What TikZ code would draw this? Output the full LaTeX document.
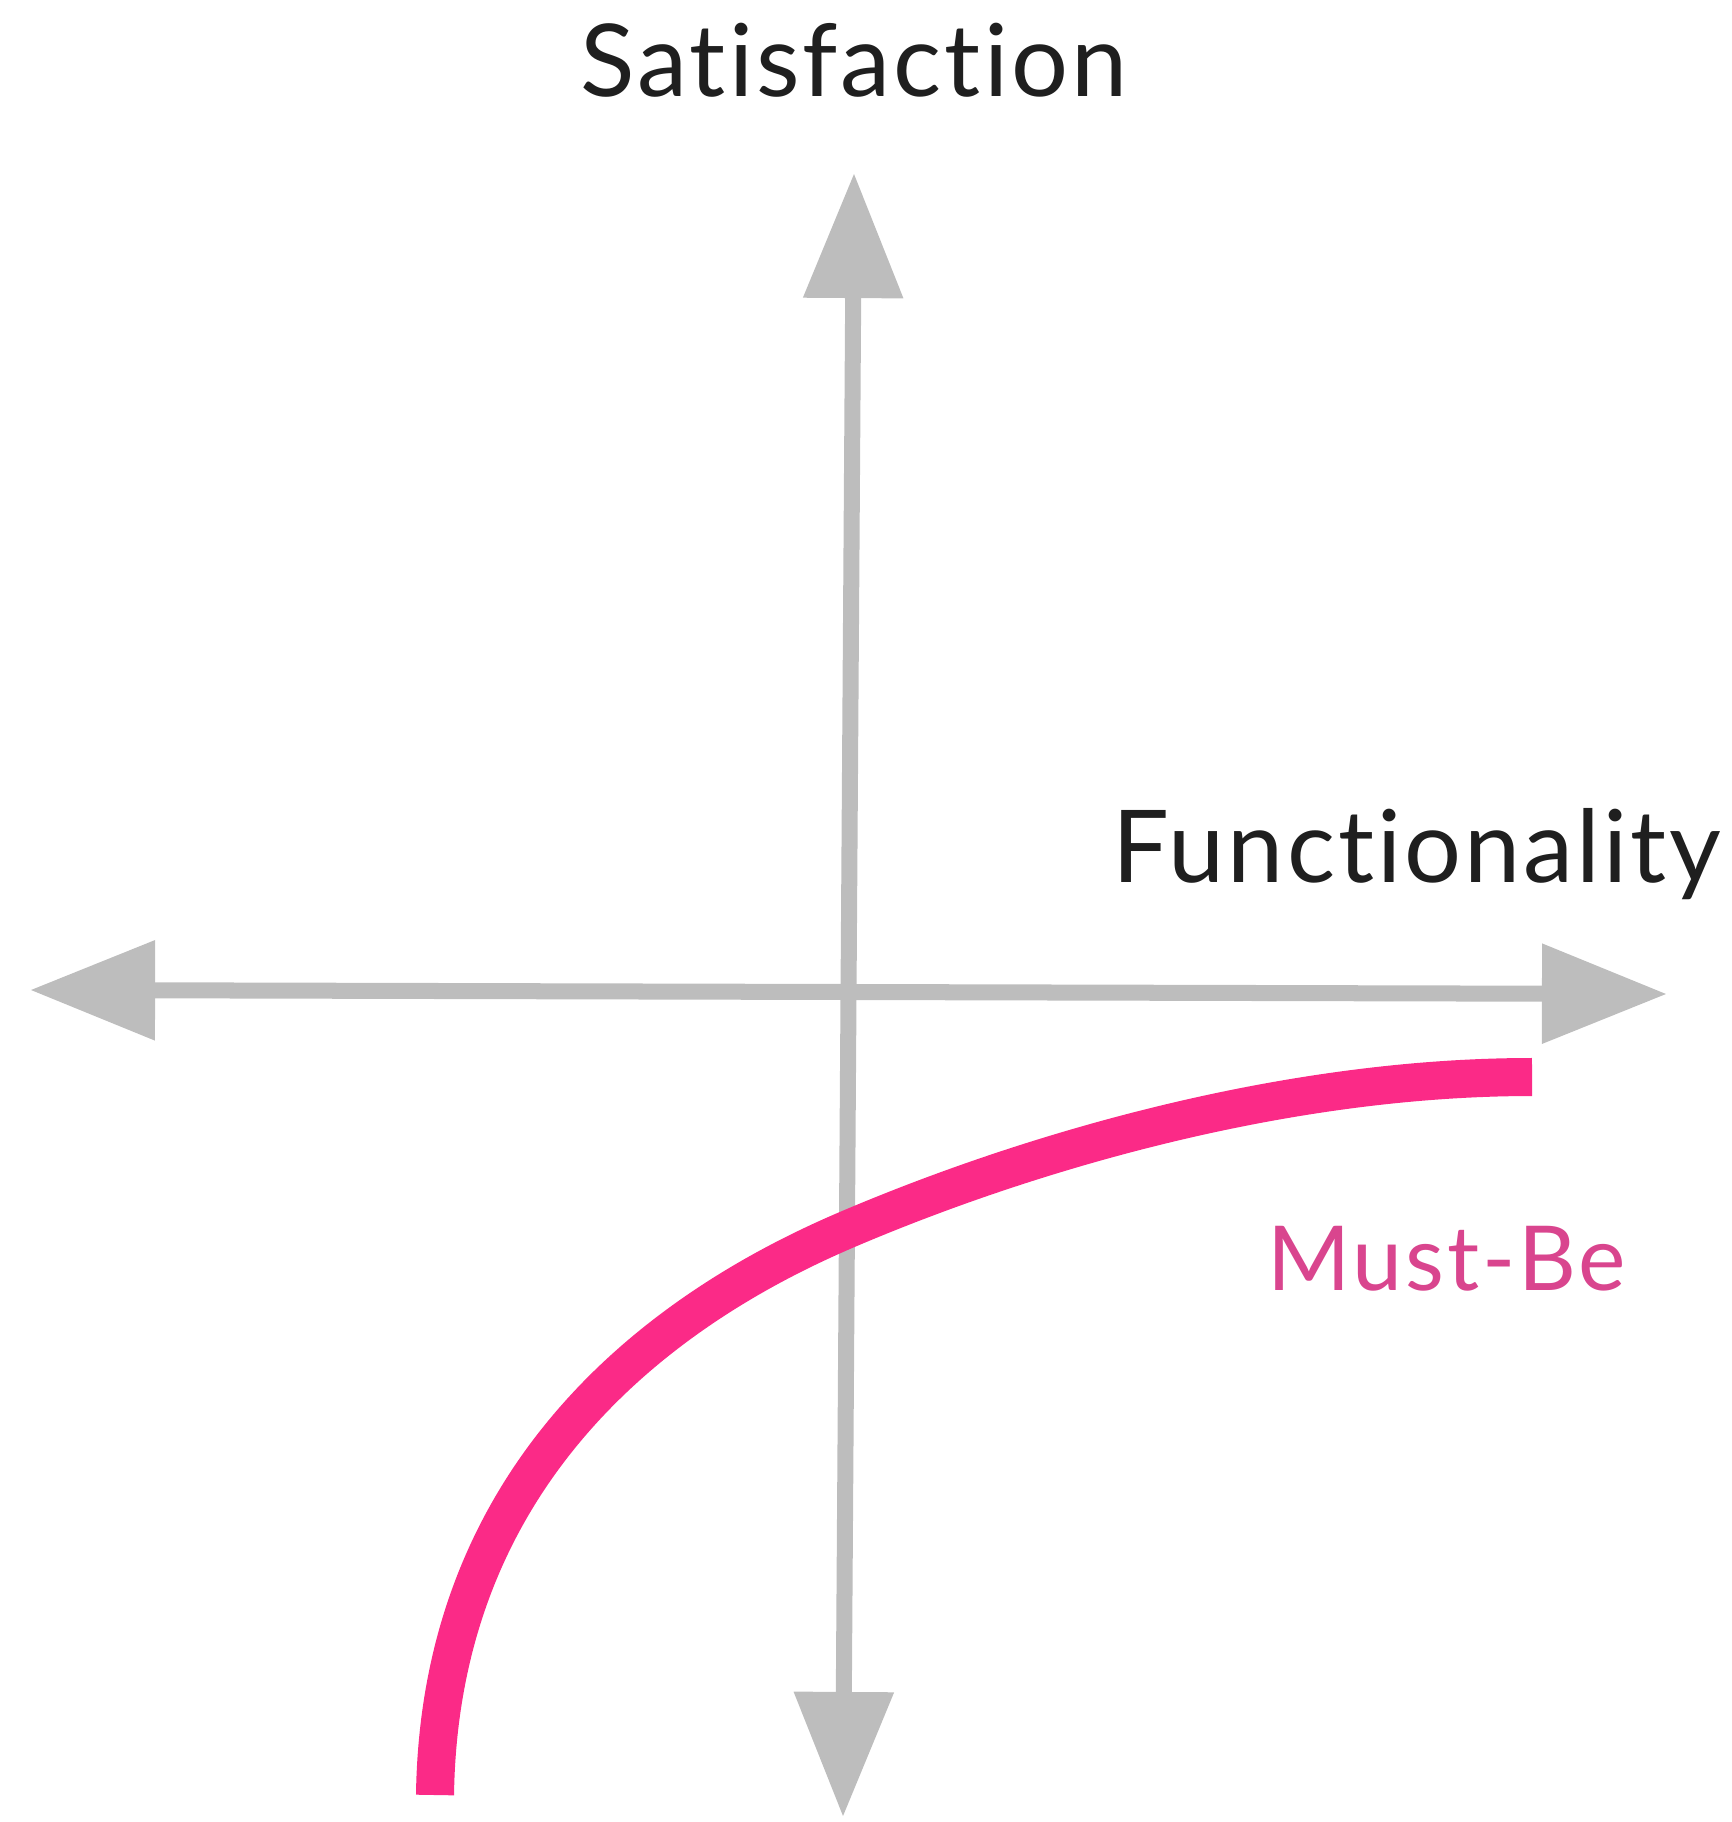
\documentclass[tikz,border=0pt]{standalone}
\usepackage{fontspec}
\setmainfont{Lato}[Ligatures=NoCommon, LetterSpace=3]
\usetikzlibrary{arrows.meta}
\definecolor{axisgray}{HTML}{BDBDBD}
\definecolor{mustpink}{HTML}{FB2A87}
\definecolor{mustlabel}{HTML}{D9458E}
\begin{document}
\begin{tikzpicture}[x=0.01cm,y=-0.01cm,
  axis/.style={draw=axisgray, line width=0.16cm,
    {Triangle[length=1.25cm,width=0.96cm,fill=axisgray]}-{Triangle[length=1.25cm,width=0.96cm,fill=axisgray]}},
  curve/.style={draw=mustpink, line width=0.38cm, line cap=butt},
  axislabel/.style={anchor=base west, inner sep=0pt, text=black!88, font=\fontsize{28.6}{34}\selectfont},
  curvelabel/.style={anchor=base west, inner sep=0pt, text=mustlabel, font=\fontsize{25.5}{30}\selectfont}]
\useasboundingbox (0,0) rectangle (1731,1822);
\coordinate (top) at (854,173);
\coordinate (bottom) at (843,1817);
\coordinate (left) at (30,990);
\coordinate (right) at (1667,994);
\coordinate (cs) at (435,1795);
\coordinate (cm) at (846,1230);
\coordinate (ce) at (1532,1077);
\draw[axis] (bottom) -- (top);
\draw[axis] (left) -- (right);
\draw[curve] (cs) .. controls (440,1441) and (706,1290) .. (cm)
  .. controls (1026,1153) and (1282,1077) .. (ce);
\node[axislabel] (sat) at (580,97) {Satisfaction};
\node[axislabel] (fun) at (1112,882) {Functionality};
\node[curvelabel] (must) at (1267,1290) {Must-Be};
\end{tikzpicture}
\end{document}
